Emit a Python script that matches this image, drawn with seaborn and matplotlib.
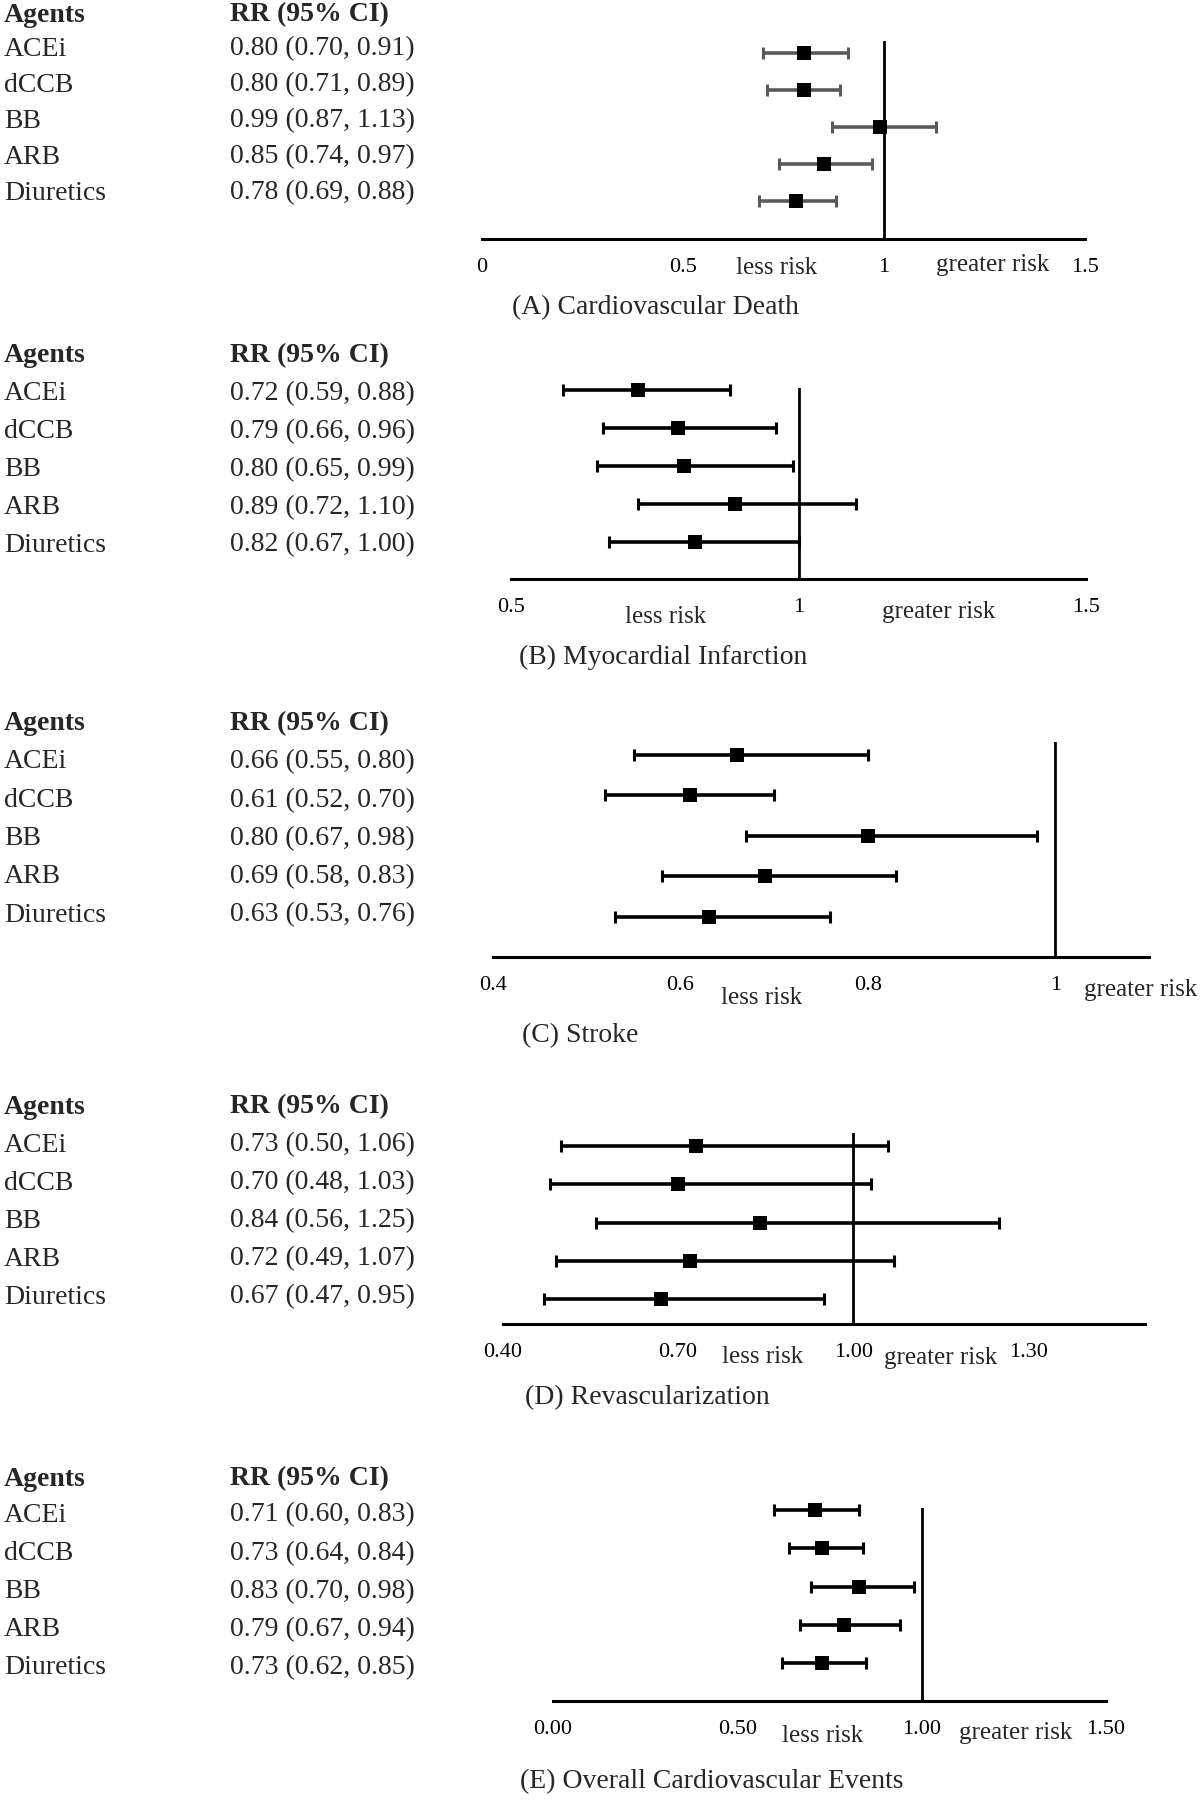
import matplotlib
matplotlib.use("Agg")
import matplotlib.pyplot as plt
import seaborn as sns
import pandas as pd

# Data
agents = ["ACEi", "dCCB", "BB", "ARB", "Diuretics"]

cv_death_rr = [0.80, 0.80, 0.99, 0.85, 0.78]
cv_death_lo = [0.70, 0.71, 0.87, 0.74, 0.69]
cv_death_hi = [0.91, 0.89, 1.13, 0.97, 0.88]

mi_rr = [0.72, 0.79, 0.80, 0.89, 0.82]
mi_lo = [0.59, 0.66, 0.65, 0.72, 0.67]
mi_hi = [0.88, 0.96, 0.99, 1.10, 1.00]

stroke_rr = [0.66, 0.61, 0.80, 0.69, 0.63]
stroke_lo = [0.55, 0.52, 0.67, 0.58, 0.53]
stroke_hi = [0.80, 0.70, 0.98, 0.83, 0.76]

revasc_rr = [0.73, 0.70, 0.84, 0.72, 0.67]
revasc_lo = [0.50, 0.48, 0.56, 0.49, 0.47]
revasc_hi = [1.06, 1.03, 1.25, 1.07, 0.95]

overall_rr = [0.71, 0.73, 0.83, 0.79, 0.73]
overall_lo = [0.60, 0.64, 0.70, 0.67, 0.62]
overall_hi = [0.83, 0.84, 0.98, 0.94, 0.85]

titles = ["(A) Cardiovascular Death", "(B) Myocardial Infarction", "(C) Stroke",
          "(D) Revascularization", "(E) Overall Cardiovascular Events"]

ticks_a = [0, 0.5, 1, 1.5]
ticklabels_a = ["0", "0.5", "1", "1.5"]
ticks_b = [0.5, 1, 1.5]
ticklabels_b = ["0.5", "1", "1.5"]
ticks_c = [0.4, 0.6, 0.8, 1]
ticklabels_c = ["0.4", "0.6", "0.8", "1"]
ticks_d = [0.4, 0.7, 1.0, 1.3]
ticklabels_d = ["0.40", "0.70", "1.00", "1.30"]
ticks_e = [0, 0.5, 1, 1.5]
ticklabels_e = ["0.00", "0.50", "1.00", "1.50"]

xlims = [(0, 1.5), (0.5, 1.5), (0.4, 1.10), (0.4, 1.5), (0, 1.5)]

series = [
    (cv_death_rr, cv_death_lo, cv_death_hi, ticks_a, ticklabels_a),
    (mi_rr, mi_lo, mi_hi, ticks_b, ticklabels_b),
    (stroke_rr, stroke_lo, stroke_hi, ticks_c, ticklabels_c),
    (revasc_rr, revasc_lo, revasc_hi, ticks_d, ticklabels_d),
    (overall_rr, overall_lo, overall_hi, ticks_e, ticklabels_e),
]

# Layout in pixels of the 1203x1800 canvas
W, H = 1203, 1800
# axes: left, right, bottom(axis line), top(ref line top), first marker y, marker spacing
axes_box = [
    (482, 1085, 239, 41, 53, 37.0),
    (511, 1086, 579, 388, 390, 38.0),
    (493, 1149, 957, 742, 755, 40.5),
    (503, 1145, 1324, 1133, 1146, 38.25),
    (553, 1106, 1701, 1508, 1510, 38.25),
]
# header y, first row y, row spacing
text_rows = [(15, 49, 36.0), (356, 394, 37.75), (724, 762, 38.25),
             (1107, 1145, 38.0), (1479, 1515, 38.25)]
# less risk (x, y), greater risk (x, y), title (left x, y)
notes = [
    ((777, 268), (993, 265), (512, 308)),
    ((666, 617), (939, 612), (519, 657)),
    ((762, 998), (1141, 990), (522, 1036)),
    ((763, 1357), (941, 1358), (525, 1398)),
    ((823, 1736), (1016, 1733), (520, 1782)),
]
bar_colors = ["#5a5a5a", "black", "black", "black", "black"]

sns.set_theme(style="white")
plt.rcParams["font.family"] = ["Liberation Serif", "DejaVu Serif"]

fig = plt.figure(figsize=(W / 100, H / 100), dpi=100)
fig.patch.set_facecolor("white")


def ftext(x, y, s, **kw):
    fig.text(x / W, 1 - y / H, s, **kw)


for k, (rr, lo, hi, ticks, ticklabels) in enumerate(series):
    left, right, bottom, top, m0, ms = axes_box[k]
    ax = fig.add_axes([left / W, 1 - bottom / H, (right - left) / W, (bottom - top) / H])
    ax.patch.set_alpha(0)

    df = pd.DataFrame({"agent": agents, "rr": rr, "lo": lo, "hi": hi})
    df["row"] = range(len(df))

    eb = ax.errorbar(df["rr"], df["row"], xerr=[df["rr"] - df["lo"], df["hi"] - df["rr"]],
                     fmt="none", ecolor=bar_colors[k], elinewidth=2.6, capsize=4.5,
                     capthick=2.2, zorder=2)
    for artist in eb.lines[1] + eb.lines[2]:
        artist.set_clip_on(False)
    sns.scatterplot(data=df, x="rr", y="row", marker="s", s=110, color="black",
                    linewidth=0, legend=False, ax=ax, zorder=3, clip_on=False)
    ax.axvline(1, color="black", lw=2, zorder=1)

    ax.set_xlim(*xlims[k])
    ax.set_ylim((bottom - m0) / ms, (top - m0) / ms)
    ax.set_xticks(ticks)
    ax.set_xticklabels(ticklabels, fontsize=16)
    ax.tick_params(axis="x", length=0, pad=14, colors="black")
    ax.set_yticks([])
    ax.set_xlabel("")
    ax.set_ylabel("")
    for side in ["top", "left", "right"]:
        ax.spines[side].set_visible(False)
    ax.spines["bottom"].set_linewidth(2.2)
    ax.spines["bottom"].set_color("black")

    # left text columns
    hy, r0, rs = text_rows[k]
    ftext(4, hy, "Agents", fontsize=20, fontweight="bold", va="center")
    ftext(230, hy, "RR (95% CI)", fontsize=20, fontweight="bold", va="center")
    for i, row in df.iterrows():
        y = r0 + rs * i
        ftext(4, y, row["agent"], fontsize=20, va="center")
        ftext(230, y, f"{row['rr']:.2f} ({row['lo']:.2f}, {row['hi']:.2f})",
              fontsize=20, va="center")

    (lx, ly), (gx, gy), (tx, ty) = notes[k]
    ftext(lx, ly, "less risk", fontsize=18, ha="center", va="center")
    ftext(gx, gy, "greater risk", fontsize=18, ha="center", va="center")
    ftext(tx, ty, titles[k], fontsize=20, va="center")

fig.savefig("out.png", dpi=100, facecolor="white")
